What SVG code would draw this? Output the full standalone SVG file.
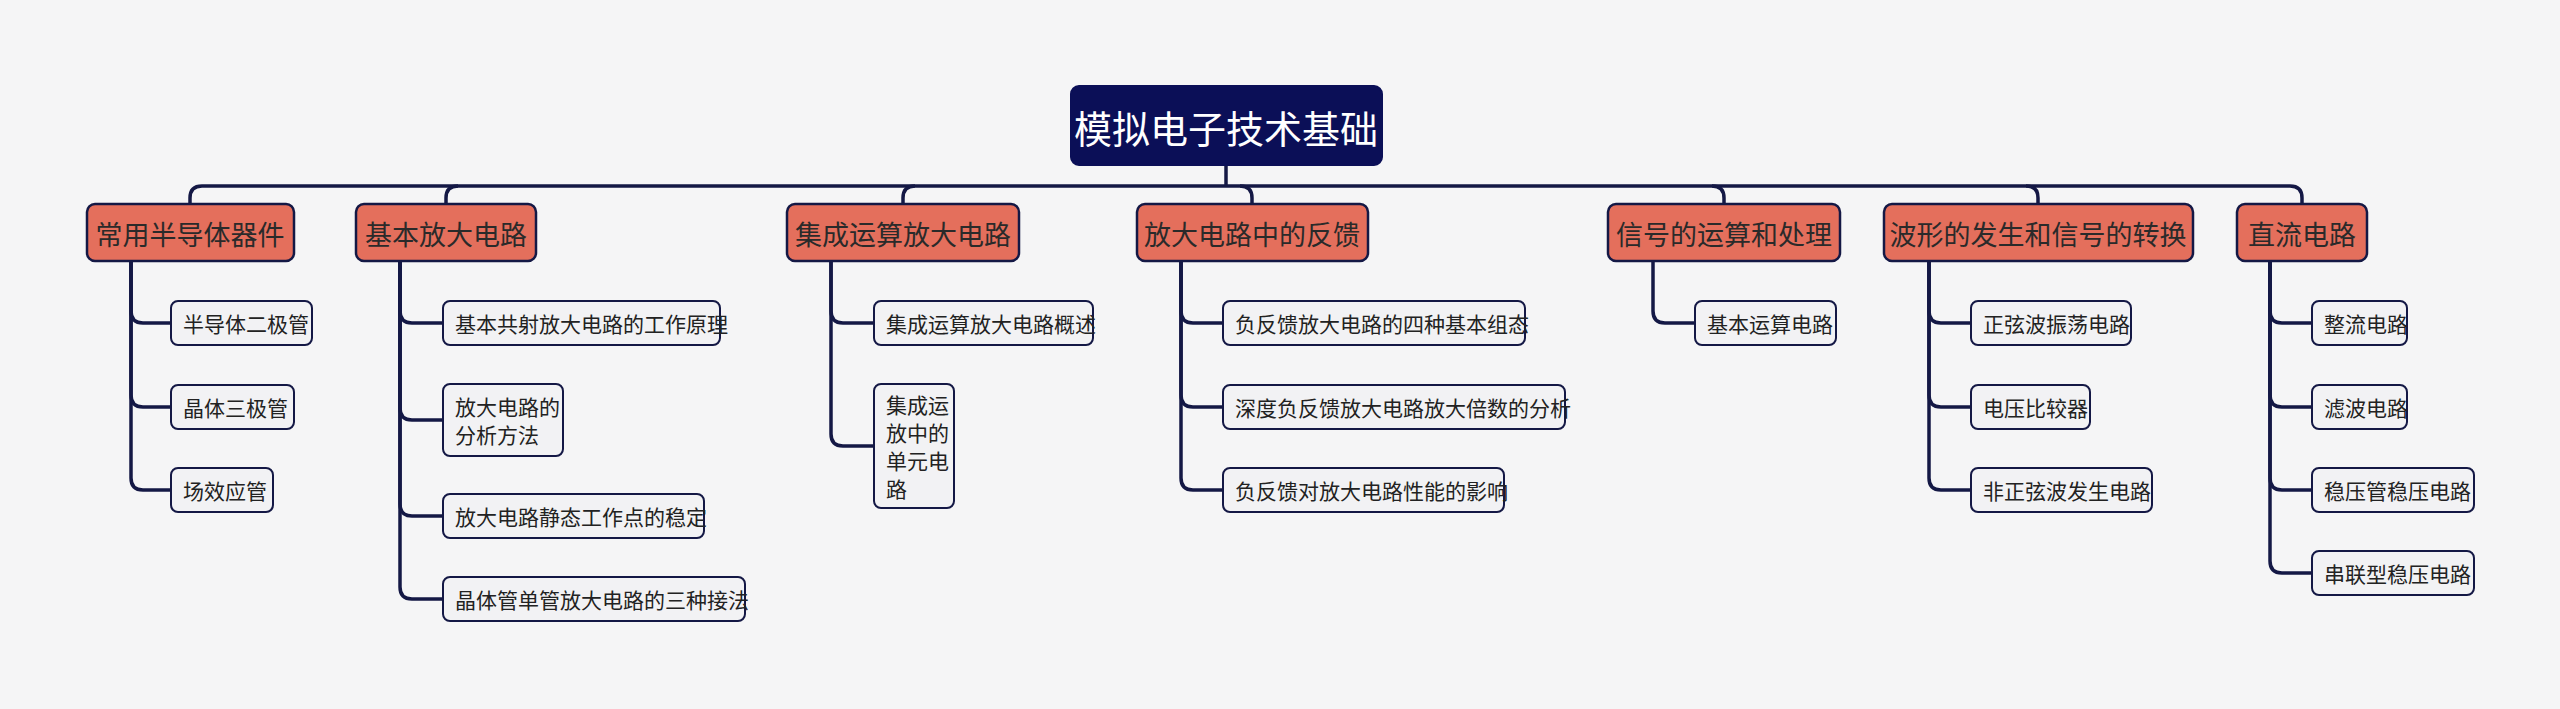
<svg xmlns="http://www.w3.org/2000/svg" width="2560" height="709" viewBox="0 0 2560 709">
<style>
.bg{fill:#f5f5f6}
.root rect{fill:#0b0f57;stroke:#0b0f57;stroke-width:2}
.root text{fill:#fff;font-size:38px}
.main rect{fill:#e46f5c;stroke:#141845;stroke-width:2.5}
.main text{fill:#2a2a2a;font-size:27px}
.sub rect{fill:#f2f2f4;stroke:#141845;stroke-width:2}
.sub text{fill:#222;font-size:21px}
text{font-family:"Noto Sans CJK SC","Noto Sans",sans-serif;dominant-baseline:central}
.c text,.main text,.root text{text-anchor:middle}
#links path{fill:none;stroke:#141845;stroke-width:3.5}
</style>
<rect class="bg" width="2560" height="709"/>
<g id="links">
<path d="M1226 165 V186"/>
<path d="M190 204 V198 Q190 186 202 186 H2290 Q2302 186 2302 198 V204"/>
<path d="M446 204 V198 Q446 186 458 186"/>
<path d="M903 204 V198 Q903 186 915 186"/>
<path d="M1252 204 V198 Q1252 186 1240 186"/>
<path d="M1724 204 V198 Q1724 186 1712 186"/>
<path d="M2038 204 V198 Q2038 186 2026 186"/>
<path d="M131 261 V311 Q131 323 143 323 H171"/>
<path d="M131 261 V395 Q131 407 143 407 H171"/>
<path d="M131 261 V478 Q131 490 143 490 H171"/>
<path d="M400 261 V311 Q400 323 412 323 H443"/>
<path d="M400 261 V408 Q400 420 412 420 H443"/>
<path d="M400 261 V504 Q400 516 412 516 H443"/>
<path d="M400 261 V587 Q400 599 412 599 H443"/>
<path d="M831 261 V311 Q831 323 843 323 H874"/>
<path d="M831 261 V434 Q831 446 843 446 H874"/>
<path d="M1181 261 V311 Q1181 323 1193 323 H1223"/>
<path d="M1181 261 V395 Q1181 407 1193 407 H1223"/>
<path d="M1181 261 V478 Q1181 490 1193 490 H1223"/>
<path d="M1653 261 V311 Q1653 323 1665 323 H1695"/>
<path d="M1929 261 V311 Q1929 323 1941 323 H1971"/>
<path d="M1929 261 V395 Q1929 407 1941 407 H1971"/>
<path d="M1929 261 V478 Q1929 490 1941 490 H1971"/>
<path d="M2270 261 V311 Q2270 323 2282 323 H2312"/>
<path d="M2270 261 V395 Q2270 407 2282 407 H2312"/>
<path d="M2270 261 V478 Q2270 490 2282 490 H2312"/>
<path d="M2270 261 V561 Q2270 573 2282 573 H2312"/>
</g>
<g id="root" class="root"><rect x="1071" y="86" width="311" height="79" rx="8"/><text x="1226" y="126">模拟电子技术基础</text></g>
<g id="m1" class="main"><rect x="87" y="204" width="207" height="57" rx="8"/><text x="190" y="233">常用半导体器件</text></g>
<g id="m2" class="main"><rect x="356" y="204" width="180" height="57" rx="8"/><text x="446" y="233">基本放大电路</text></g>
<g id="m3" class="main"><rect x="787" y="204" width="232" height="57" rx="8"/><text x="903" y="233">集成运算放大电路</text></g>
<g id="m4" class="main"><rect x="1137" y="204" width="231" height="57" rx="8"/><text x="1252" y="233">放大电路中的反馈</text></g>
<g id="m5" class="main"><rect x="1608" y="204" width="232" height="57" rx="8"/><text x="1724" y="233">信号的运算和处理</text></g>
<g id="m6" class="main"><rect x="1884" y="204" width="309" height="57" rx="8"/><text x="2038" y="233">波形的发生和信号的转换</text></g>
<g id="m7" class="main"><rect x="2237" y="204" width="130" height="57" rx="8"/><text x="2302" y="233">直流电路</text></g>
<g id="s1" class="sub"><rect x="171" y="301" width="141" height="44" rx="7"/><text x="183" y="323">半导体二极管</text></g>
<g id="s2" class="sub"><rect x="171" y="385" width="123" height="44" rx="7"/><text x="183" y="407">晶体三极管</text></g>
<g id="s3" class="sub"><rect x="171" y="468" width="102" height="44" rx="7"/><text x="183" y="490">场效应管</text></g>
<g id="s4" class="sub"><rect x="443" y="301" width="277" height="44" rx="7"/><text x="455" y="323">基本共射放大电路的工作原理</text></g>
<g id="s5" class="sub"><rect x="443" y="384" width="120" height="72" rx="7"/><text x="455" y="406">放大电路的</text><text x="455" y="434">分析方法</text></g>
<g id="s6" class="sub"><rect x="443" y="494" width="261" height="44" rx="7"/><text x="455" y="516">放大电路静态工作点的稳定</text></g>
<g id="s7" class="sub"><rect x="443" y="577" width="302" height="44" rx="7"/><text x="455" y="599">晶体管单管放大电路的三种接法</text></g>
<g id="s8" class="sub"><rect x="874" y="301" width="219" height="44" rx="7"/><text x="886" y="323">集成运算放大电路概述</text></g>
<g id="s9" class="sub"><rect x="874" y="384" width="80" height="124" rx="7"/><text x="886" y="404">集成运</text><text x="886" y="432">放中的</text><text x="886" y="460">单元电</text><text x="886" y="488">路</text></g>
<g id="s10" class="sub"><rect x="1223" y="301" width="302" height="44" rx="7"/><text x="1235" y="323">负反馈放大电路的四种基本组态</text></g>
<g id="s11" class="sub"><rect x="1223" y="385" width="342" height="44" rx="7"/><text x="1235" y="407">深度负反馈放大电路放大倍数的分析</text></g>
<g id="s12" class="sub"><rect x="1223" y="468" width="281" height="44" rx="7"/><text x="1235" y="490">负反馈对放大电路性能的影响</text></g>
<g id="s13" class="sub"><rect x="1695" y="301" width="141" height="44" rx="7"/><text x="1707" y="323">基本运算电路</text></g>
<g id="s14" class="sub"><rect x="1971" y="301" width="160" height="44" rx="7"/><text x="1983" y="323">正弦波振荡电路</text></g>
<g id="s15" class="sub"><rect x="1971" y="385" width="119" height="44" rx="7"/><text x="1983" y="407">电压比较器</text></g>
<g id="s16" class="sub"><rect x="1971" y="468" width="181" height="44" rx="7"/><text x="1983" y="490">非正弦波发生电路</text></g>
<g id="s17" class="sub"><rect x="2312" y="301" width="95" height="44" rx="7"/><text x="2324" y="323">整流电路</text></g>
<g id="s18" class="sub"><rect x="2312" y="385" width="95" height="44" rx="7"/><text x="2324" y="407">滤波电路</text></g>
<g id="s19" class="sub"><rect x="2312" y="468" width="162" height="44" rx="7"/><text x="2324" y="490">稳压管稳压电路</text></g>
<g id="s20" class="sub"><rect x="2312" y="551" width="162" height="44" rx="7"/><text x="2324" y="573">串联型稳压电路</text></g>
</svg>
